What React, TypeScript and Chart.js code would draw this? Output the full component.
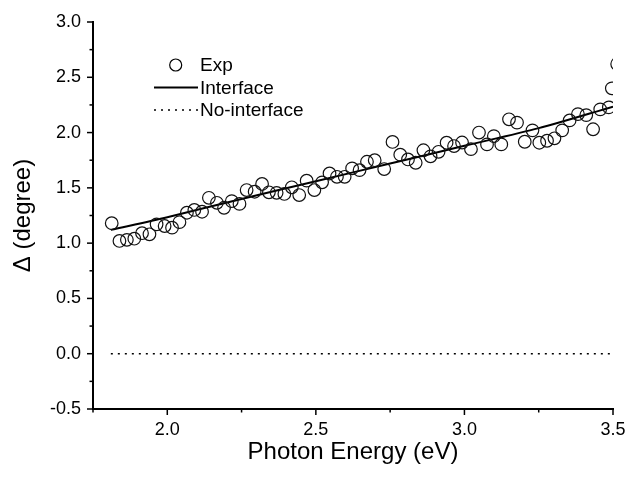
import React, { useEffect, useRef } from "react";
import { Chart, registerables } from "chart.js";

Chart.register(...registerables);

const photonEnergy = [
  1.813, 1.839, 1.864, 1.889, 1.915, 1.94, 1.964, 1.991, 2.016, 2.041,
  2.066, 2.091, 2.117, 2.14, 2.167, 2.191, 2.217, 2.243, 2.267, 2.294,
  2.319, 2.342, 2.368, 2.394, 2.419, 2.444, 2.469, 2.495, 2.521, 2.546,
  2.571, 2.597, 2.622, 2.647, 2.672, 2.698, 2.73, 2.758, 2.784, 2.81,
  2.836, 2.862, 2.886, 2.913, 2.94, 2.965, 2.992, 3.022, 3.049, 3.076,
  3.099, 3.124, 3.15, 3.177, 3.203, 3.229, 3.252, 3.278, 3.303, 3.329,
  3.354, 3.382, 3.41, 3.433, 3.457, 3.486, 3.496, 3.514,
];
const expDelta = [
  1.18, 1.02, 1.03, 1.04, 1.09, 1.08, 1.17, 1.155, 1.14, 1.19,
  1.275, 1.3, 1.284, 1.41, 1.365, 1.32, 1.38, 1.355, 1.48, 1.465,
  1.535, 1.46, 1.455, 1.445, 1.505, 1.435, 1.565, 1.48, 1.55, 1.63,
  1.6, 1.6, 1.676, 1.66, 1.736, 1.75, 1.67, 1.915, 1.8, 1.757,
  1.727, 1.84, 1.785, 1.826, 1.908, 1.878, 1.91, 1.85, 2.0, 1.893,
  1.968, 1.893, 2.12, 2.09, 1.917, 2.02, 1.908, 1.926, 1.948, 2.02,
  2.11, 2.167, 2.158, 2.03, 2.21, 2.228, 2.4, 2.62,
];
const fitEnergy = [1.81, 2.0, 2.25, 2.5, 2.75, 3.0, 3.25, 3.5];
const interfaceDelta = [1.12, 1.235, 1.4, 1.56, 1.72, 1.88, 2.04, 2.235];
const noInterfaceEnergy = [1.81, 3.5];
const noInterfaceDelta = [0, 0];
const xTickValues = [2.0, 2.5, 3.0, 3.5];
const yTickValues = [-0.5, 0, 0.5, 1.0, 1.5, 2.0, 2.5, 3.0];
const seriesLabels = ["Exp", "Interface", "No-interface"];
const xTitle = "Photon Energy (eV)";
const yTitle = "\u0394 (degree)";

const FONT = "'Liberation Sans', Arial, Helvetica, sans-serif";

const axisDecor = {
  id: "axisDecor",
  afterDraw(chart: any) {
    const ctx = chart.ctx;
    const { left, top, bottom } = chart.chartArea;
    const xs = chart.scales.x;
    const ys = chart.scales.y;
    ctx.save();
    ctx.strokeStyle = "#000";
    ctx.lineWidth = 1.5;
    for (let i = 0; i <= 7; i++) {
      const v = 1.75 + i * 0.25;
      const major = i % 2 === 1;
      const px = xs.getPixelForValue(v);
      ctx.beginPath();
      ctx.moveTo(px, bottom);
      ctx.lineTo(px, bottom + (major ? 6 : 3.5));
      ctx.stroke();
    }
    for (let i = 0; i <= 14; i++) {
      const v = -0.5 + i * 0.25;
      const major = i % 2 === 0;
      const py = ys.getPixelForValue(v);
      ctx.beginPath();
      ctx.moveTo(left, py);
      ctx.lineTo(left - (major ? 6 : 3.5), py);
      ctx.stroke();
    }
    // legend
    const lx = left + 61;
    const tx = left + 107;
    const rows = [top + 43, top + 65.5, top + 88];
    ctx.fillStyle = "#000";
    ctx.font = `19px ${FONT}`;
    ctx.textBaseline = "middle";
    ctx.textAlign = "left";
    ctx.lineWidth = 1.2;
    ctx.beginPath();
    ctx.arc(left + 82.7, rows[0], 6, 0, Math.PI * 2);
    ctx.stroke();
    ctx.lineWidth = 2;
    ctx.beginPath();
    ctx.moveTo(lx, rows[1]);
    ctx.lineTo(lx + 44, rows[1]);
    ctx.stroke();
    ctx.lineWidth = 1.5;
    ctx.setLineDash([2, 5]);
    ctx.beginPath();
    ctx.moveTo(lx, rows[2]);
    ctx.lineTo(lx + 44, rows[2]);
    ctx.stroke();
    ctx.setLineDash([]);
    seriesLabels.forEach((s, i) => ctx.fillText(s, tx, rows[i] + 1));
    ctx.restore();
  },
};

export default function App() {
  const ref = useRef<HTMLCanvasElement | null>(null);
  useEffect(() => {
    if (!ref.current) return;
    const chart = new Chart(ref.current, {
      type: "scatter",
      data: {
        datasets: [
          {
            label: seriesLabels[0],
            data: photonEnergy.map((x, i) => ({ x, y: expDelta[i] })),
            pointRadius: 6.3,
            pointBorderWidth: 1.2,
            pointBorderColor: "#111",
            pointBackgroundColor: "rgba(0,0,0,0)",
            showLine: false,
            clip: 0,
            order: 1,
          },
          {
            label: seriesLabels[1],
            data: fitEnergy.map((x, i) => ({ x, y: interfaceDelta[i] })),
            showLine: true,
            borderColor: "#000",
            borderWidth: 2,
            pointRadius: 0,
            tension: 0.3,
            clip: 0,
            order: 2,
          },
          {
            label: seriesLabels[2],
            data: noInterfaceEnergy.map((x, i) => ({ x, y: noInterfaceDelta[i] })),
            showLine: true,
            borderColor: "#000",
            borderWidth: 1.5,
            borderDash: [2, 5],
            pointRadius: 0,
            order: 3,
          },
        ],
      },
      options: {
        animation: false,
        responsive: true,
        maintainAspectRatio: false,
        layout: { padding: { top: 22, right: 14, left: 0, bottom: 0 } },
        plugins: { legend: { display: false }, tooltip: { enabled: false } },
        scales: {
          x: {
            type: "linear",
            min: 1.75,
            max: 3.5,
            afterBuildTicks: (s: any) => {
              s.ticks = xTickValues.map((v) => ({ value: v }));
            },
            afterFit: (s: any) => {
              s.height = 68;
              s.paddingLeft = 0;
              s.paddingRight = 0;
            },
            grid: { display: false, drawTicks: false },
            border: { display: true, color: "#000", width: 2 },
            ticks: {
              color: "#000",
              font: { family: FONT, size: 18 },
              padding: 10.5,
              maxRotation: 0,
              callback: (v: any) => Number(v).toFixed(1),
            },
            title: {
              display: true,
              text: xTitle,
              color: "#000",
              font: { family: FONT, size: 24 },
              padding: { top: 0, bottom: 10.6 },
            },
          },
          y: {
            type: "linear",
            min: -0.5,
            max: 3.0,
            afterBuildTicks: (s: any) => {
              s.ticks = yTickValues.map((v) => ({ value: v }));
            },
            afterFit: (s: any) => {
              s.width = 93;
              s.paddingTop = 0;
              s.paddingBottom = 0;
            },
            grid: { display: false, drawTicks: false },
            border: { display: true, color: "#000", width: 2 },
            ticks: {
              color: "#000",
              font: { family: FONT, size: 18 },
              padding: 12,
              callback: (v: any) => Number(v).toFixed(1),
            },
            title: {
              display: true,
              text: yTitle,
              color: "#000",
              font: { family: FONT, size: 24 },
              padding: { top: 9.1, bottom: 0 },
            },
          },
        },
      },
      plugins: [axisDecor],
    });
    return () => chart.destroy();
  }, []);
  return (
    <div style={{ position: "absolute", left: 0, top: 0, width: 627, height: 477, background: "#fff" }}>
      <canvas ref={ref} />
    </div>
  );
}
